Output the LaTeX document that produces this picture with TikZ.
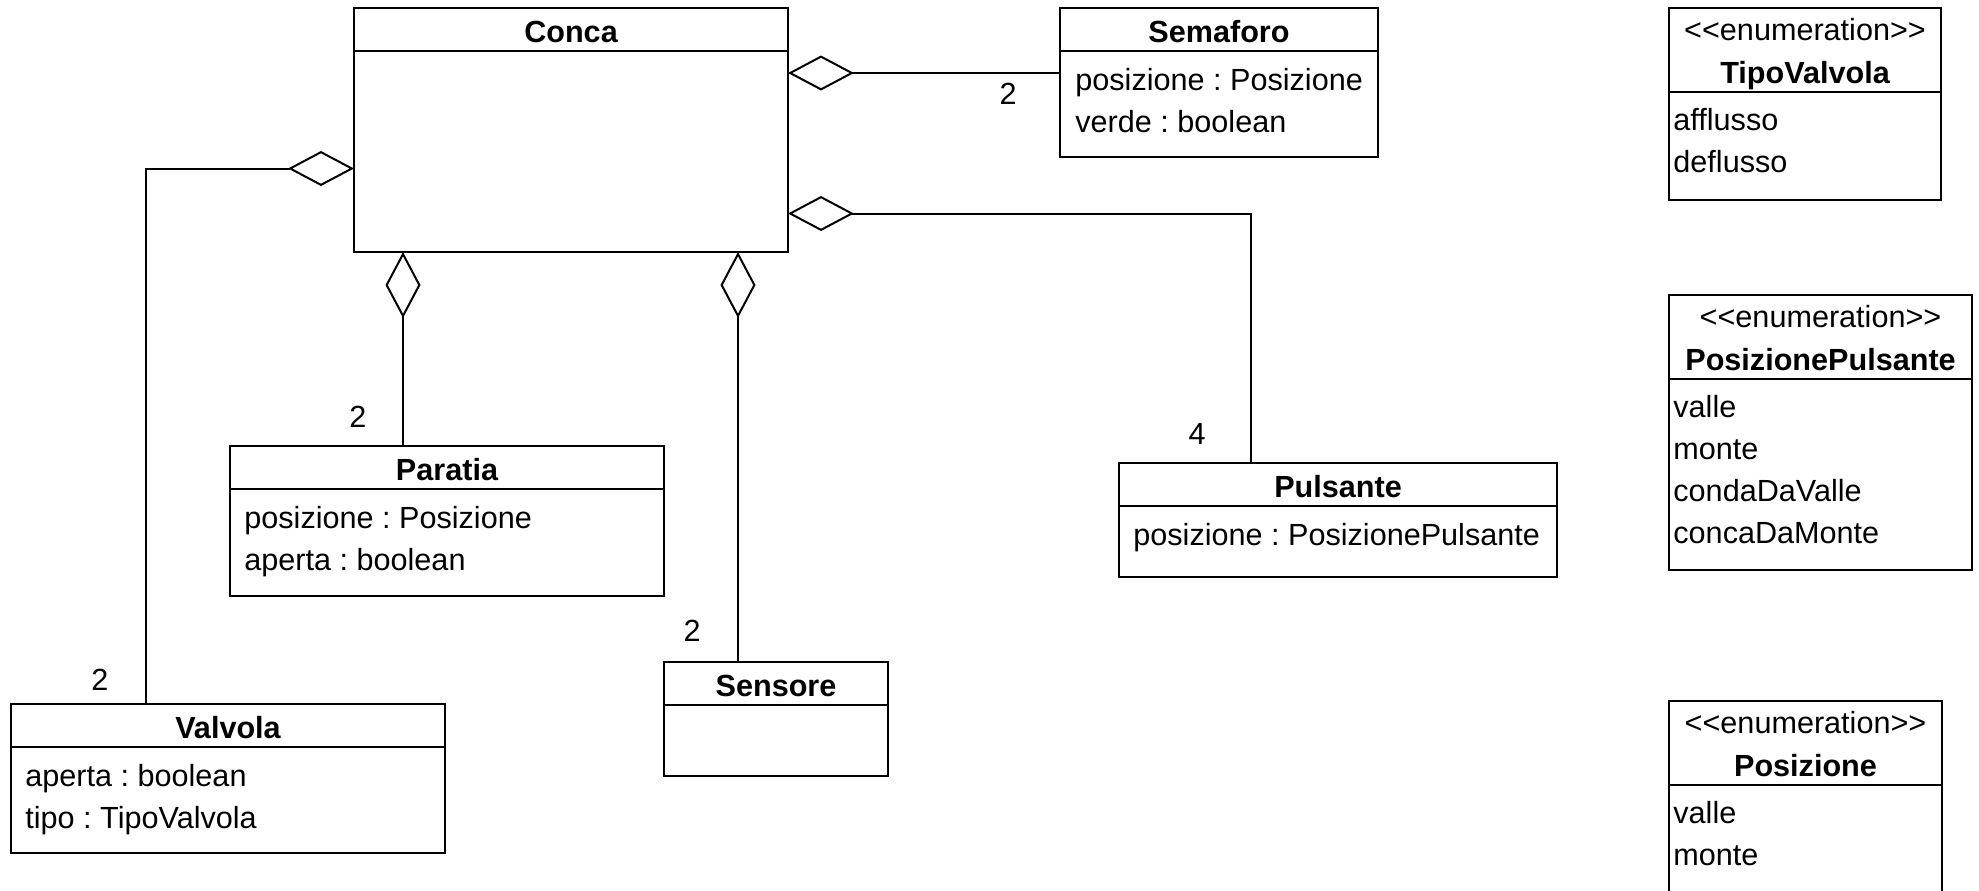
\documentclass[tikz,border=0pt]{standalone}
\usepackage{fontspec}
\setmainfont{Liberation Sans}
\frenchspacing
\usetikzlibrary{arrows.meta,positioning}

\begin{document}
\begin{tikzpicture}[x=0.5pt, y=-0.5pt,
  txt/.style={font=\fontsize{15.3}{21}\selectfont, inner sep=0pt},
  head/.style={draw, line width=1.4pt, inner sep=0pt, outer sep=0pt,
               minimum height=21.5pt, text height=12.5pt, text depth=0pt,
               font=\fontsize{15.3}{21}\selectfont\bfseries, anchor=north west},
  enumhead/.style={head, minimum height=42pt, text height=33pt},
  body/.style={draw, line width=1.4pt, inner sep=0pt, outer sep=0pt},
  attr/.style={txt, anchor=base west},
  mult/.style={txt},
  agg/.style={{Diamond[open, length=33pt, width=17.5pt]}-, line width=1pt}
]
\useasboundingbox (0,0) rectangle (1979,890);
\clip (0,0) rectangle (1979,890);

% classes
\node[head, minimum width=217pt] (conca) at (354,8) {Conca};
\node[body, minimum width=217pt, minimum height=100.5pt, below=0pt of conca] (conca-body) {};

\node[head, minimum width=159pt] (semaforo) at (1060,8) {Semaforo};
\node[body, minimum width=159pt, minimum height=53pt, below=0pt of semaforo] (semaforo-body) {};
\foreach \lbl [count=\i from 0] in {posizione : Posizione, verde : boolean}
  \node[attr] (semaforo-a\i) at ([shift={(15,39+42*\i)}]semaforo-body.north west) {\lbl};

\node[head, minimum width=217pt] (paratia) at (230,446) {Paratia};
\node[body, minimum width=217pt, minimum height=53.5pt, below=0pt of paratia] (paratia-body) {};
\foreach \lbl [count=\i from 0] in {posizione : Posizione, aperta : boolean}
  \node[attr] (paratia-a\i) at ([shift={(14,39+42*\i)}]paratia-body.north west) {\lbl};

\node[head, minimum width=112pt] (sensore) at (664,662) {Sensore};
\node[body, minimum width=112pt, minimum height=35.5pt, below=0pt of sensore] (sensore-body) {};

\node[head, minimum width=217pt] (valvola) at (11,704) {Valvola};
\node[body, minimum width=217pt, minimum height=53pt, below=0pt of valvola] (valvola-body) {};
\foreach \lbl [count=\i from 0] in {aperta : boolean, tipo : TipoValvola}
  \node[attr] (valvola-a\i) at ([shift={(14,39+42*\i)}]valvola-body.north west) {\lbl};

\node[head, minimum width=219pt] (pulsante) at (1119,463) {Pulsante};
\node[body, minimum width=219pt, minimum height=35.5pt, below=0pt of pulsante] (pulsante-body) {};
\node[attr] (pulsante-a0) at ([shift={(14,39)}]pulsante-body.north west) {posizione : PosizionePulsante};

% enumerations
\node[enumhead, minimum width=136pt] (tipovalvola) at (1669,8) {TipoValvola};
\node[body, minimum width=136pt, minimum height=54pt, below=0pt of tipovalvola] (tipovalvola-body) {};
\node[txt, anchor=base] (tipovalvola-st) at ([yshift=-16pt]tipovalvola.north) {<{}<enumeration>{}>};
\foreach \lbl [count=\i from 0] in {afflusso, deflusso}
  \node[attr] (tipovalvola-a\i) at ([shift={(4,38+42*\i)}]tipovalvola-body.north west) {\lbl};

\node[enumhead, minimum width=151.5pt] (pospulsante) at (1669,295) {PosizionePulsante};
\node[body, minimum width=151.5pt, minimum height=95.5pt, below=0pt of pospulsante] (pospulsante-body) {};
\node[txt, anchor=base] (pospulsante-st) at ([yshift=-16pt]pospulsante.north) {<{}<enumeration>{}>};
\foreach \lbl [count=\i from 0] in {valle, monte, condaDaValle, concaDaMonte}
  \node[attr] (pospulsante-a\i) at ([shift={(4,38+42.3*\i)}]pospulsante-body.north west) {\lbl};

\node[enumhead, minimum width=136.5pt] (posizione) at (1669,701) {Posizione};
\node[body, minimum width=136.5pt, minimum height=100pt, below=0pt of posizione] (posizione-body) {};
\node[txt, anchor=base] (posizione-st) at ([yshift=-16pt]posizione.north) {<{}<enumeration>{}>};
\foreach \lbl [count=\i from 0] in {valle, monte}
  \node[attr] (posizione-a\i) at ([shift={(4,38+42*\i)}]posizione-body.north west) {\lbl};

% aggregations
\coordinate (par-end) at ([xshift=24.5pt]conca-body.south west);
\coordinate (sen-end) at ([xshift=192pt]conca-body.south west);
\draw[agg] ([yshift=-11pt]conca-body.north east) -- ([yshift=-11pt]semaforo-body.north west);
\draw[agg] ([yshift=-31pt]conca-body.east) -| ([xshift=66pt]pulsante.north west);
\draw[agg] ([yshift=-8.5pt]conca-body.west) -| ([xshift=67.5pt]valvola.north west);
\draw[agg] (par-end) -- (par-end |- paratia.north);
\draw[agg] (sen-end) -- (sen-end |- sensore.north);

% multiplicities
\node[mult] (m-semaforo) at (1008,94) {2};
\node[mult] (m-pulsante) at (1197,434) {4};
\node[mult] (m-valvola) at (100,680) {2};
\node[mult] (m-paratia) at (358,417) {2};
\node[mult] (m-sensore) at (692,631) {2};

\end{tikzpicture}
\end{document}
